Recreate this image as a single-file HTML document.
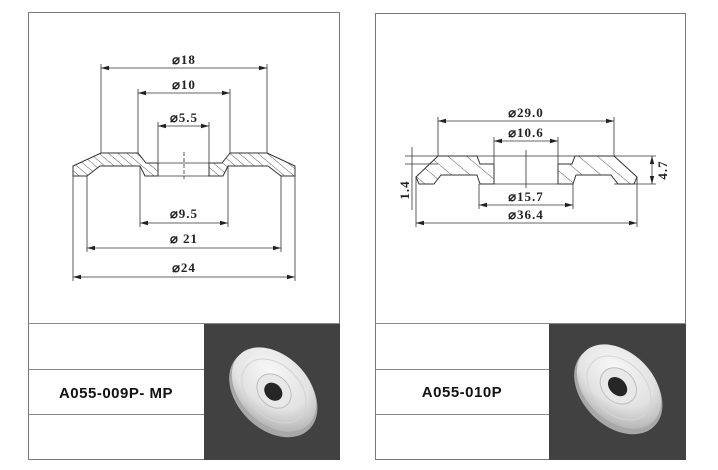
<!DOCTYPE html>
<html><head><meta charset="utf-8"><style>
html,body{margin:0;padding:0;background:#fff;}
svg{display:block;}
.d{font-family:"Liberation Serif","DejaVu Serif",serif;font-weight:bold;font-size:13px;letter-spacing:1px;fill:#222;}
.t{font-family:"Liberation Sans",sans-serif;font-weight:bold;font-size:15px;fill:#111;letter-spacing:0.5px;}
</style></head><body>
<svg width="718" height="470" viewBox="0 0 718 470" xmlns="http://www.w3.org/2000/svg">
<defs>
<pattern id="h" width="6" height="6" patternUnits="userSpaceOnUse" patternTransform="rotate(-50)">
<rect width="6" height="6" fill="#fff"/><line x1="0" y1="0" x2="0" y2="6" stroke="#333" stroke-width="0.8"/>
</pattern>
<pattern id="h2" width="12" height="12" patternUnits="userSpaceOnUse" patternTransform="rotate(-50)">
<rect width="12" height="12" fill="#fff"/><line x1="0" y1="0" x2="0" y2="12" stroke="#333" stroke-width="0.8"/>
</pattern>
<marker id="a" markerWidth="8" markerHeight="6" refX="8" refY="3" orient="auto-start-reverse" markerUnits="userSpaceOnUse"><path d="M0,0.8 L8,3 L0,5.2 z" fill="#222"/></marker>
<radialGradient id="g" cx="35%" cy="35%" r="75%"><stop offset="0" stop-color="#f8f8f8"/><stop offset="0.6" stop-color="#e2e2e2"/><stop offset="1" stop-color="#b0b0b0"/></radialGradient>
</defs>
<rect x="28.5" y="12.5" width="311" height="447" fill="none" stroke="#777" stroke-width="1"/>
<rect x="375.5" y="13.5" width="310" height="446" fill="none" stroke="#777" stroke-width="1"/>
<g stroke="#888" stroke-width="1">
<line x1="28" y1="323.5" x2="340" y2="323.5"/><line x1="28" y1="369.5" x2="204" y2="369.5"/><line x1="28" y1="414.5" x2="204" y2="414.5"/>
<line x1="375" y1="323.5" x2="686" y2="323.5"/><line x1="375" y1="369.5" x2="549" y2="369.5"/><line x1="375" y1="414.5" x2="549" y2="414.5"/>
</g>
<rect x="204" y="324" width="136" height="136" fill="#414141"/>
<rect x="549" y="324" width="137" height="136" fill="#414141"/>
<g transform="translate(274,391) rotate(45)">
<ellipse cx="1" cy="2" rx="51" ry="36" fill="#a8a8a8"/>
<ellipse cx="-1" cy="-1" rx="49" ry="34" fill="url(#g)"/>
<ellipse cx="0" cy="0" rx="37" ry="26" fill="none" stroke="#d4d4d4"/>
<ellipse cx="0" cy="0" rx="19" ry="15" fill="#e8e8e8" stroke="#bcbcbc"/>
<ellipse cx="0" cy="1" rx="10" ry="8" fill="#262626"/>
</g>
<g transform="translate(619,388) rotate(45)">
<ellipse cx="1" cy="2" rx="51" ry="36" fill="#a8a8a8"/>
<ellipse cx="-1" cy="-1" rx="49" ry="34" fill="url(#g)"/>
<ellipse cx="0" cy="0" rx="37" ry="26" fill="none" stroke="#d4d4d4"/>
<ellipse cx="-2" cy="-1" rx="20" ry="16" fill="#e8e8e8" stroke="#bcbcbc"/>
<ellipse cx="-2" cy="0" rx="11" ry="8" fill="#262626"/>
</g>
<text class="t" x="116" y="398" text-anchor="middle">A055-009P- MP</text>
<text class="t" x="462" y="397" text-anchor="middle">A055-010P</text>

<g stroke="#333" stroke-width="1" fill="url(#h)">
<path d="M73,166 L101,153 L138,153 L146,163 L158,163 L158,176 L145,176 L140,166 L100,166 L87,176 L73,176 Z"/>
<path d="M295,166 L267,153 L230,153 L222,163 L209,163 L209,176 L223,176 L228,166 L268,166 L281,176 L295,176 Z"/>
</g>
<g stroke="#333" stroke-width="0.8" fill="none">
<line x1="158" y1="163" x2="209" y2="163"/><line x1="158" y1="176" x2="209" y2="176"/>
<line x1="184" y1="152" x2="184" y2="179" stroke-dasharray="4,2"/>
<line x1="101" y1="64" x2="101" y2="153"/><line x1="267" y1="64" x2="267" y2="153"/>
<line x1="138" y1="89" x2="138" y2="153"/><line x1="230" y1="89" x2="230" y2="153"/>
<line x1="158" y1="122" x2="158" y2="163"/><line x1="209" y1="122" x2="209" y2="163"/>
<line x1="140" y1="166" x2="140" y2="227"/><line x1="228" y1="166" x2="228" y2="227"/>
<line x1="87" y1="176" x2="87" y2="252"/><line x1="281" y1="176" x2="281" y2="252"/>
<line x1="73" y1="176" x2="73" y2="281"/><line x1="295" y1="176" x2="295" y2="281"/>
<line x1="101" y1="68" x2="267" y2="68" marker-start="url(#a)" marker-end="url(#a)"/>
<line x1="138" y1="93" x2="230" y2="93" marker-start="url(#a)" marker-end="url(#a)"/>
<line x1="158" y1="126" x2="209" y2="126" marker-start="url(#a)" marker-end="url(#a)"/>
<line x1="140" y1="223" x2="228" y2="223" marker-start="url(#a)" marker-end="url(#a)"/>
<line x1="87" y1="248" x2="281" y2="248" marker-start="url(#a)" marker-end="url(#a)"/>
<line x1="73" y1="277" x2="295" y2="277" marker-start="url(#a)" marker-end="url(#a)"/>
</g>
<text class="d" x="184" y="64" text-anchor="middle">⌀18</text>
<text class="d" x="184" y="89" text-anchor="middle">⌀10</text>
<text class="d" x="184" y="122" text-anchor="middle">⌀5.5</text>
<text class="d" x="184" y="218" text-anchor="middle">⌀9.5</text>
<text class="d" x="184" y="243" text-anchor="middle">⌀ 21</text>
<text class="d" x="184" y="272" text-anchor="middle">⌀24</text>

<g stroke="#333" stroke-width="1" fill="url(#h2)">
<path d="M438,156 L477,156 L480,164 L494,164 L494,184 L480,184 L477,175 L441,175 L434,184 L419,184 L416,177 Z"/>
<path d="M614,156 L575,156 L572,164 L558,164 L558,184 L573,184 L576,175 L611,175 L618,184 L634,184 L637,177 Z"/>
</g>
<g stroke="#333" stroke-width="0.8" fill="none">
<line x1="494" y1="184" x2="558" y2="184"/>
<line x1="526" y1="150" x2="526" y2="188"/>
<line x1="405" y1="156" x2="656" y2="156"/>
<line x1="405" y1="164" x2="438" y2="164"/>
<line x1="614" y1="184" x2="656" y2="184"/>
<line x1="438" y1="117" x2="438" y2="156"/><line x1="614" y1="117" x2="614" y2="156"/>
<line x1="494" y1="137" x2="494" y2="164"/><line x1="558" y1="137" x2="558" y2="164"/>
<line x1="479" y1="184" x2="479" y2="209"/><line x1="573" y1="184" x2="573" y2="209"/>
<line x1="416" y1="177" x2="416" y2="227"/><line x1="637" y1="177" x2="637" y2="227"/>
<line x1="438" y1="121" x2="614" y2="121" marker-start="url(#a)" marker-end="url(#a)"/>
<line x1="494" y1="141" x2="558" y2="141" marker-start="url(#a)" marker-end="url(#a)"/>
<line x1="479" y1="205" x2="573" y2="205" marker-start="url(#a)" marker-end="url(#a)"/>
<line x1="416" y1="223" x2="637" y2="223" marker-start="url(#a)" marker-end="url(#a)"/>
<line x1="652" y1="156" x2="652" y2="184" marker-start="url(#a)" marker-end="url(#a)"/>
<line x1="412" y1="147" x2="412" y2="210"/>
</g>
<text class="d" x="526" y="117" text-anchor="middle">⌀29.0</text>
<text class="d" x="526" y="137" text-anchor="middle">⌀10.6</text>
<text class="d" x="526" y="201" text-anchor="middle">⌀15.7</text>
<text class="d" x="526" y="219" text-anchor="middle">⌀36.4</text>
<text class="d" transform="translate(667,170) rotate(-90)" text-anchor="middle">4.7</text>
<text class="d" transform="translate(409,190) rotate(-90)" text-anchor="middle">1.4</text>
</svg>
</body></html>
